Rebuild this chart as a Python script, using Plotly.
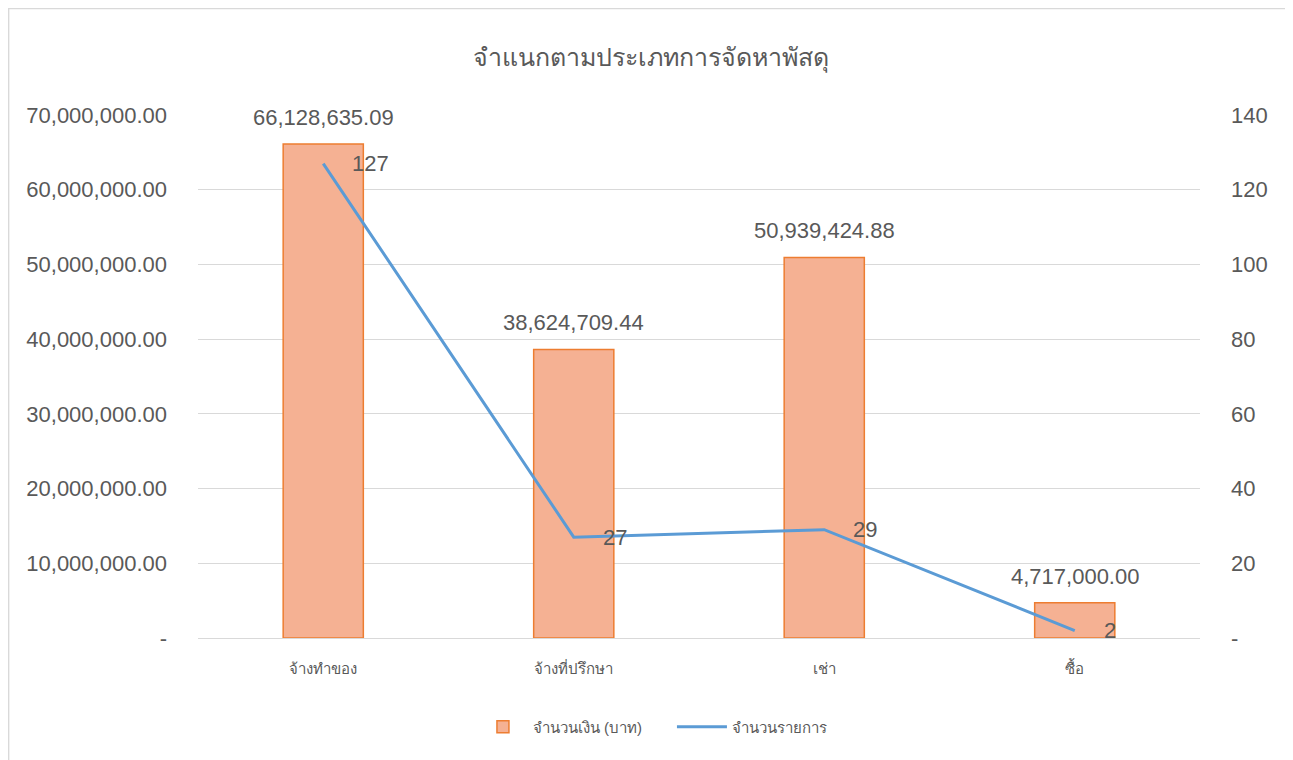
import plotly.graph_objects as go

categories = ["จ้างทำของ", "จ้างที่ปรึกษา", "เช่า", "ซื้อ"]
amounts = [66128635.09, 38624709.44, 50939424.88, 4717000.00]
counts = [127, 27, 29, 2]

left_ticks = [0, 10000000, 20000000, 30000000, 40000000, 50000000, 60000000, 70000000]
left_tick_labels = ["-"] + [f"{v:,.2f}" for v in left_ticks[1:]]
right_ticks = [0, 20, 40, 60, 80, 100, 120, 140]
right_tick_labels = ["-"] + [str(v) for v in right_ticks[1:]]

title_text = "จำแนกตามประเภทการจัดหาพัสดุ"
bar_name = "จำนวนเงิน (บาท)"
line_name = "จำนวนรายการ"

GRAY = "#595959"
FONT = "Liberation Sans, Noto Sans, sans-serif"

fig = go.Figure()
fig.add_trace(go.Bar(
    x=categories, y=amounts, name=bar_name,
    marker=dict(color="#F5B193", line=dict(color="#ED7D31", width=1.5)),
    width=0.32, yaxis="y",
))
fig.add_trace(go.Scatter(
    x=categories, y=counts, name=line_name, mode="lines",
    line=dict(color="#5B9BD5", width=3), yaxis="y2",
))

annotations = []
for c, a in zip(categories, amounts):
    annotations.append(dict(x=c, y=a, xref="x", yref="y", text=f"{a:,.2f}",
                            showarrow=False, yanchor="bottom", yshift=12,
                            font=dict(size=22, color=GRAY, family=FONT)))
for c, n in zip(categories, counts):
    annotations.append(dict(x=c, y=n, xref="x", yref="y2", text=str(n),
                            showarrow=False, xanchor="left", yanchor="middle",
                            xshift=27, font=dict(size=22, color=GRAY, family=FONT)))

fig.update_layout(
    width=1285, height=752,
    margin=dict(l=190, r=93, t=107, b=122),
    paper_bgcolor="white", plot_bgcolor="white",
    font=dict(family=FONT, color=GRAY),
    title=dict(text=title_text, x=0.5, xanchor="center", y=0.935, yanchor="middle",
               font=dict(size=25, color=GRAY)),
    xaxis=dict(showgrid=False, showline=False, zeroline=False, ticks="",
               tickfont=dict(size=15, color=GRAY), ticklabelstandoff=20),
    yaxis=dict(range=[0, 70000000], tickvals=left_ticks, ticktext=left_tick_labels,
               showgrid=True, gridcolor="#D9D9D9", gridwidth=1,
               zeroline=True, zerolinecolor="#D9D9D9", zerolinewidth=1,
               showline=False, ticks="", ticklabelstandoff=30,
               tickfont=dict(size=22, color=GRAY)),
    yaxis2=dict(range=[0, 140], tickvals=right_ticks, ticktext=right_tick_labels,
                overlaying="y", side="right", showgrid=False, zeroline=False,
                showline=False, ticks="", ticklabelstandoff=30,
                tickfont=dict(size=22, color=GRAY)),
    legend=dict(orientation="h", x=0.473, xanchor="center", y=-0.17, yanchor="middle",
                font=dict(size=15, color=GRAY), traceorder="normal",
                itemwidth=50, entrywidth=134, entrywidthmode="pixels"),
    bargap=0.68,
    annotations=annotations,
    shapes=[dict(type="rect", xref="paper", yref="paper",
                 x0=-0.189, x1=1.0868, y0=-0.25, y1=1.2036,
                 line=dict(color="#D9D9D9", width=1.5), layer="below")],
    showlegend=True,
)

fig.write_html("out.html")
